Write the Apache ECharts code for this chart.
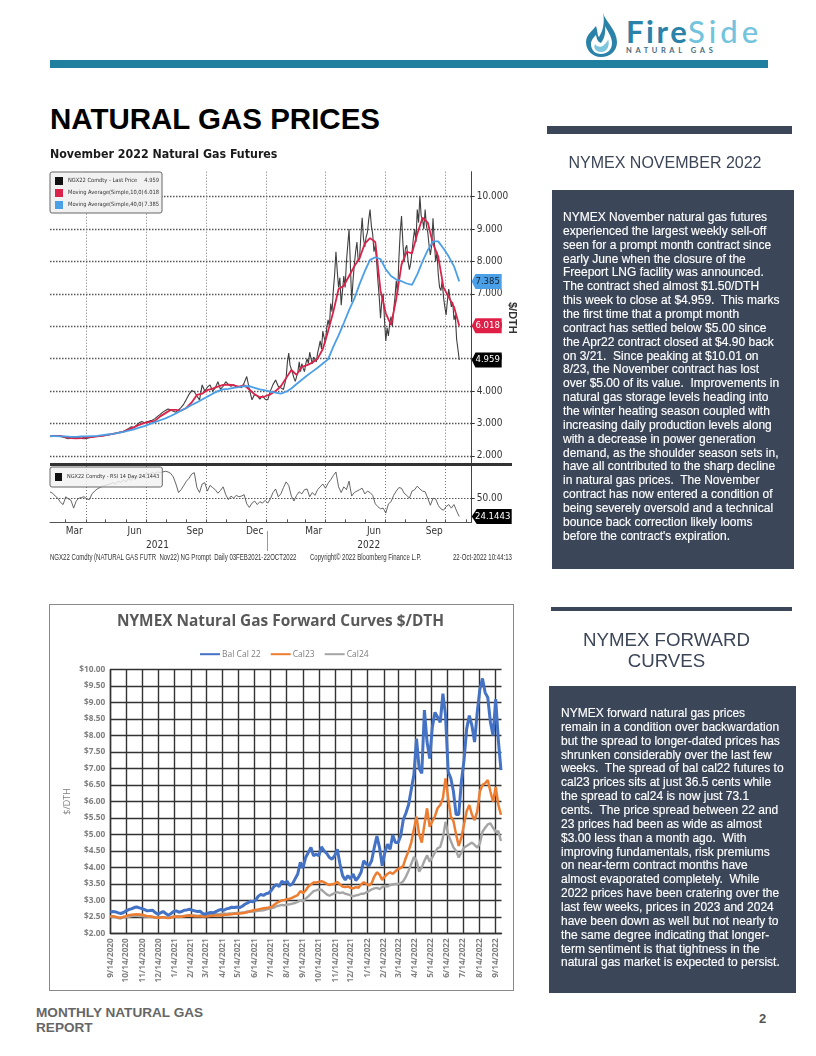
<!DOCTYPE html>
<html><head><meta charset="utf-8">
<script src="https://cdn.jsdelivr.net/npm/echarts@6/dist/echarts.min.js"></script>
<style>
html,body{margin:0;padding:0;background:#fff;width:816px;height:1056px;overflow:hidden;font-family:"Liberation Sans",Arial,sans-serif}
.a{position:absolute;white-space:pre}
#chart{position:absolute;left:0;top:0;width:816px;height:1056px;z-index:2}
.panel{position:absolute;background:#3b4658;z-index:1}
.body{position:absolute;color:#fff;font-size:12px;line-height:13.86px;white-space:pre;z-index:3;-webkit-text-stroke:.15px #fff}
.head{position:absolute;color:#3c4657;text-align:center;z-index:3}
.foot{font-size:8.3px;line-height:11px;color:#333;z-index:4;transform-origin:left top}
</style></head><body>
<div class="a" style="left:50px;top:60px;width:718px;height:8px;background:#1f7f9e"></div>
<svg class="a" style="left:584px;top:12px" width="36" height="46" viewBox="0 0 36 46">
<path d="M19 1C21 9 33 18 33 30C33 39 26 45 17 45C8 45 2 38 2 30C2 23 8 19 12 14C14 20 13 23 15 25C19 19 21 10 19 1Z" fill="#2a82a8"/>
<path d="M21 14C24 20 28 25 28 31C28 38 23 42 17 42C11 42 7 38 7 32C7 28 10 25 12 23C13 28 14 30 17 31C20 27 22 21 21 14Z" fill="#fff"/>
<path d="M17 40C12 40 9 36 11 32C13 35 17 36 20 33C22 31 24 29 24 27C26 32 24 40 17 40Z" fill="#7cc6de"/>
</svg>
<div class="a" style="left:626px;top:18px;font:700 31px/26px Lato,sans-serif;letter-spacing:2.6px;color:#2a82a8">Fire</div>
<div class="a" style="left:688px;top:18px;font:500 31px/26px Lato,sans-serif;letter-spacing:4px;color:#72c3dd">Side</div>
<div class="a" style="left:626px;top:46px;font:700 7.5px/9px Lato,sans-serif;letter-spacing:3.6px;color:#4a6c80">NATURAL GAS</div>
<div class="a" style="left:50px;top:102px;font:700 29.5px/34px 'Liberation Sans',sans-serif;color:#000">NATURAL GAS PRICES</div>

<div class="a" style="left:48.5px;top:604px;width:463px;height:385px;border:1px solid #8a8a8a;background:#fff"></div>
<div class="a" style="left:50px;top:462.6px;width:462px;height:3px;background:#333;z-index:4"></div>
<div class="a" style="left:267.4px;top:531px;width:.8px;height:20px;background:#999;z-index:4"></div>
<div class="a foot" style="left:50px;top:552px;transform:scaleX(.73)">NGX22 Comdty (NATURAL GAS FUTR  Nov22) NG Prompt  Daily 03FEB2021-22OCT2022</div>
<div class="a foot" style="left:310px;top:552px;transform:scaleX(.73)">Copyright© 2022 Bloomberg Finance L.P.</div>
<div class="a foot" style="left:453px;top:552px;transform:scaleX(.73)">22-Oct-2022 10:44:13</div>

<div class="a" style="left:547px;top:126px;width:245px;height:8px;background:#3b4658"></div>
<div class="head" style="left:547px;top:152.5px;width:236px;font-size:16px;line-height:20px">NYMEX NOVEMBER 2022</div>
<div class="panel" style="left:552px;top:190px;width:242px;height:379px"></div>
<div class="body" style="left:563px;top:211px">NYMEX November natural gas futures
experienced the largest weekly sell-off
seen for a prompt month contract since
early June when the closure of the
Freeport LNG facility was announced.
The contract shed almost $1.50/DTH
this week to close at $4.959.  This marks
the first time that a prompt month
contract has settled below $5.00 since
the Apr22 contract closed at $4.90 back
on 3/21.  Since peaking at $10.01 on
8/23, the November contract has lost
over $5.00 of its value.  Improvements in
natural gas storage levels heading into
the winter heating season coupled with
increasing daily production levels along
with a decrease in power generation
demand, as the shoulder season sets in,
have all contributed to the sharp decline
in natural gas prices.  The November
contract has now entered a condition of
being severely oversold and a technical
bounce back correction likely looms
before the contract's expiration.</div>

<div class="a" style="left:551px;top:607px;width:241px;height:4px;background:#3b4658"></div>
<div class="head" style="left:551px;top:629px;width:231px;font-size:18.7px;line-height:21px">NYMEX FORWARD
CURVES</div>
<div class="panel" style="left:549px;top:686px;width:247px;height:307px"></div>
<div class="body" style="left:561px;top:707px">NYMEX forward natural gas prices
remain in a condition over backwardation
but the spread to longer-dated prices has
shrunken considerably over the last few
weeks.  The spread of bal cal22 futures to
cal23 prices sits at just 36.5 cents while
the spread to cal24 is now just 73.1
cents.  The price spread between 22 and
23 prices had been as wide as almost
$3.00 less than a month ago.  With
improving fundamentals, risk premiums
on near-term contract months have
almost evaporated completely.  While
2022 prices have been cratering over the
last few weeks, prices in 2023 and 2024
have been down as well but not nearly to
the same degree indicating that longer-
term sentiment is that tightness in the
natural gas market is expected to persist.</div>

<div class="a" style="left:36px;top:1005px;font-weight:700;font-size:13.6px;line-height:15px;color:#666">MONTHLY NATURAL GAS
REPORT</div>
<div class="a" style="left:759px;top:1011px;font:700 13px/15px 'Liberation Sans',sans-serif;color:#555">2</div>
<div id="chart"></div>
<script>
// ---- November 2022 futures ----
// one price every 4 days from 5 Feb 2021
const lastPriceEarly=[2.60,2.62,2.63,2.62,2.60,2.58,2.55,2.53,2.55,2.57,2.58,2.56,2.54,2.53,2.54,2.56,2.58,2.60,2.60,2.62,2.62,2.63,2.65,2.66,2.68,2.70,2.72,2.74,2.76,2.80,2.85,2.90,2.88,2.95,3.02,3.06,3.02,3.05,3.08,3.10,3.15,3.22,3.28,3.35,3.40,3.45,3.42,3.38,3.35,3.42,3.50,3.60,3.75,3.90,4.02,3.98,3.85,3.73,4.19,4.0,4.12,4.19,4.0,4.1,4.29,4.05,4.15,4.29,4.2,4.15,4.2,4.12,4.14,4.1,4.25,4.45,4.05,3.73,3.9,3.85,3.75,3.85,3.75,3.73,4.0,4.2,4.34,4.15,4.1,4.05];
// one price every 2 days from 31 Jan 2022
const lastPriceLate=[4.4,4.9,5.17,4.8,4.76,4.55,4.4,4.3,4.24,4.6,4.9,4.6,4.85,4.7,4.6,4.85,5.0,4.85,5.2,5.0,4.85,5.05,5.0,4.9,5.17,5.35,5.55,5.3,5.85,5.65,5.5,5.95,6.2,6.0,6.7,6.45,7.1,7.6,8.3,7.7,7.2,7.5,6.65,7.1,7.55,7.2,8.0,8.5,9.0,7.9,6.75,7.4,7.9,8.3,8.6,8.0,8.1,8.8,9.35,8.7,8.45,8.75,8.9,9.3,9.6,9.1,8.85,8.3,8.5,8.0,7.4,6.9,6.25,6.8,7.0,6.2,5.55,5.95,5.7,6.1,6.3,6.0,6.5,6.9,7.4,7.0,8.1,8.9,9.4,8.6,8.0,8.4,8.5,8.0,7.75,7.95,8.3,8.7,9.0,8.6,9.6,9.2,10.01,9.4,9.3,9.0,9.6,9.1,8.9,8.5,8.2,8.5,9.33,8.6,8.0,8.3,7.6,7.2,7.1,7.4,6.9,6.6,6.35,6.8,7.15,6.85,6.6,6.75,6.2,6.35,5.6,5.3,4.959];
// moving averages, one value every 8 days
const ma10=[2.60,2.62,2.62,2.58,2.55,2.54,2.55,2.57,2.58,2.60,2.62,2.65,2.68,2.71,2.75,2.82,2.88,2.96,3.02,3.05,3.08,3.22,3.32,3.42,3.42,3.40,3.48,3.65,3.88,3.92,4.03,4.08,4.14,4.19,4.2,4.18,4.14,4.18,4.05,3.9,3.81,3.84,3.9,4.0,4.15,4.4,4.65,4.5,4.75,4.8,4.88,5.0,5.3,5.85,6.45,7.15,7.25,7.55,7.85,8.1,8.55,8.72,8.6,7.1,6.4,6.04,6.85,7.9,8.3,8.25,8.85,9.35,9.2,8.55,8.15,7.2,6.9,6.6,6.018];
const ma40=[2.61,2.61,2.60,2.60,2.59,2.59,2.60,2.60,2.61,2.62,2.64,2.66,2.68,2.71,2.74,2.78,2.82,2.87,2.92,2.98,3.04,3.10,3.16,3.23,3.31,3.40,3.48,3.57,3.65,3.74,3.83,3.92,4.00,4.05,4.07,4.10,4.12,4.15,4.15,4.10,4.05,4.02,3.98,3.95,3.92,3.98,4.08,4.22,4.35,4.48,4.6,4.72,4.85,4.98,5.37,5.72,6.1,6.5,6.85,7.3,7.7,8.05,8.13,8.07,7.76,7.55,7.44,7.39,7.32,7.28,7.6,8.0,8.35,8.62,8.62,8.4,8.15,7.85,7.385];
// RSI 14 day, one value every 4 days
const rsi14=[58.8,57,53,50,44,41,52,49,47,36,46,50,51,52,49,48,56,60,63,65,67,68,69,70,72,70,74,72,76,73,78,75,80,78,82,80,83,85,84,86,85,87,86,87,88,87,85,80,70,58,62,68,74,78,84,86,65,58,70,72,60,68,65,62,57,61,66,55,48,53,50,54,52,53,55,42,37,43,46,41,45,43,47,43,49,58,63,52,56,65,73,68,53,46,54,59,56,62,63,52,58,54,62,66,70,64,71,76,82,87,66,58,66,62,74,53,58,60,62,64,56,60,58,54,42,38,35,36,29,42,45,54,60,65,64,57,54,50,60,62,67,63,60,59,50,40,50,49,40,35,33,38,41,36,41,32,24.1443];
const priceTicks=[2,3,4,5,6,7,8,9,10];
const monthLabels=['Mar','Jun','Sep','Dec','Mar','Jun','Sep'];
const yearLabels=['2021','2022'];
// ---- Forward curves (one value every 5 days from 14 Sep 2020) ----
const balCal22=[2.65,2.66,2.65,2.62,2.60,2.63,2.68,2.72,2.74,2.78,2.80,2.77,2.75,2.72,2.68,2.69,2.70,2.63,2.58,2.62,2.66,2.60,2.55,2.60,2.66,2.68,2.64,2.66,2.70,2.71,2.73,2.70,2.68,2.66,2.67,2.60,2.58,2.61,2.63,2.62,2.66,2.70,2.72,2.70,2.74,2.76,2.79,2.78,2.80,2.78,2.82,2.88,2.92,2.97,2.96,3.00,3.12,3.18,3.15,3.20,3.22,3.30,3.42,3.48,3.42,3.58,3.52,3.58,3.45,3.50,3.65,3.80,4.15,3.98,4.30,4.45,4.60,4.35,4.40,4.35,4.62,4.50,4.42,4.30,4.25,4.35,4.55,4.10,3.75,3.62,3.75,3.65,3.80,3.60,3.70,3.85,4.20,4.10,4.05,4.2,4.6,4.95,4.6,4.05,4.45,4.7,4.55,4.98,4.75,4.75,4.95,5.45,5.65,5.9,6.35,6.8,7.9,7.0,6.85,8.77,7.8,7.3,8.26,8.7,8.55,8.4,9.27,8.6,6.9,6.7,6.3,5.6,5.6,6.6,7.25,8.2,8.6,8.3,7.8,8.7,9.4,9.73,9.3,9.15,8.4,8.0,9.1,7.86,6.95];
const cal23=[2.50,2.52,2.50,2.48,2.47,2.50,2.52,2.55,2.56,2.57,2.58,2.57,2.56,2.54,2.52,2.52,2.50,2.48,2.47,2.48,2.49,2.47,2.46,2.48,2.50,2.51,2.50,2.50,2.52,2.53,2.54,2.53,2.52,2.52,2.52,2.51,2.51,2.52,2.53,2.53,2.54,2.54,2.54,2.56,2.56,2.57,2.58,2.59,2.59,2.60,2.61,2.62,2.64,2.67,2.69,2.71,2.72,2.74,2.76,2.77,2.78,2.80,2.86,2.92,2.96,3.00,3.01,3.03,3.05,3.08,3.12,3.16,3.28,3.22,3.30,3.42,3.48,3.54,3.54,3.56,3.58,3.55,3.50,3.46,3.49,3.50,3.56,3.48,3.42,3.40,3.42,3.38,3.36,3.40,3.38,3.48,3.55,3.5,3.45,3.52,3.72,3.85,3.78,3.62,3.72,3.8,3.85,3.8,3.88,3.95,3.98,4.05,4.3,4.5,4.75,5.15,5.54,5.0,4.75,5.3,5.79,5.23,5.4,5.55,5.8,5.89,6.1,6.7,6.1,5.54,5.4,5.0,4.65,4.9,5.3,5.7,5.89,5.6,5.43,5.7,6.3,6.5,6.55,6.65,6.3,5.99,6.44,5.9,5.59];
const cal24=[2.50,2.51,2.49,2.46,2.45,2.48,2.49,2.50,2.52,2.53,2.53,2.52,2.52,2.51,2.51,2.50,2.49,2.48,2.48,2.48,2.49,2.48,2.47,2.49,2.51,2.51,2.52,2.52,2.53,2.54,2.55,2.54,2.54,2.53,2.54,2.53,2.54,2.55,2.56,2.57,2.58,2.59,2.59,2.60,2.59,2.60,2.60,2.61,2.62,2.62,2.63,2.64,2.66,2.65,2.66,2.67,2.68,2.69,2.70,2.72,2.74,2.76,2.78,2.82,2.84,2.86,2.85,2.87,2.88,2.90,2.92,2.95,3.00,2.97,3.05,3.12,3.20,3.28,3.30,3.33,3.32,3.25,3.18,3.14,3.18,3.22,3.25,3.22,3.24,3.20,3.18,3.15,3.12,3.15,3.16,3.20,3.20,3.24,3.28,3.33,3.36,3.38,3.34,3.40,3.44,3.42,3.46,3.48,3.50,3.5,3.52,3.58,3.72,3.9,4.1,4.32,4.2,3.87,4.0,4.2,4.37,4.17,4.3,4.45,4.58,4.62,4.9,5.38,5.0,4.8,4.6,4.5,4.3,4.45,4.6,4.65,4.7,4.75,4.68,4.6,4.72,5.08,5.2,5.3,5.33,5.2,5.08,5.1,4.8];
const fwdTickLabels=['9/14/2020','10/14/2020','11/14/2020','12/14/2020','1/14/2021','2/14/2021','3/14/2021','4/14/2021','5/14/2021','6/14/2021','7/14/2021','8/14/2021','9/14/2021','10/14/2021','11/14/2021','12/14/2021','1/14/2022','2/14/2022','3/14/2022','4/14/2022','5/14/2022','6/14/2022','7/14/2022','8/14/2022','9/14/2022'];

const DAY=86400000;
const d=(y,m,dd)=>new Date(y,m-1,dd).getTime();
const pts=(vals,start,step)=>vals.map((v,i)=>[start+i*step*DAY,v]);
const topMin=d(2021,2,5), topMax=d(2022,11,10);
const quarterEnds=[d(2021,4,1),d(2021,7,1),d(2021,10,1),d(2022,1,1),d(2022,4,1),d(2022,7,1),d(2022,10,1)];
const monthFirsts=[];for(let y=2021,m=3;y<2023&&!(y==2022&&m>11);m++){if(m>12){m=1;y++;}monthFirsts.push(d(y,m,1));}
const labelDates=[d(2021,3,14),d(2021,6,14),d(2021,9,14),d(2021,12,14),d(2022,3,14),d(2022,6,14),d(2022,9,14)];
const yearDates=[d(2021,7,19),d(2022,6,6)];
const fwdStart=d(2020,9,14), fwdEnd=d(2022,9,25);
const fwdTicks=fwdTickLabels.map(s=>{const p=s.split('/');return d(+p[2],+p[0],+p[1]);});
const NAR='"DejaVu Sans Condensed","Liberation Sans",sans-serif';
const tag=(date,val,color,text,tc,w)=>({
  silent:true,animation:false,
  data:[{coord:[date,val],symbol:'path://M0 7 L5 0 L40 0 L40 14 L5 14 Z',symbolSize:[w,15],symbolOffset:[w/2,0],symbolKeepAspect:false,
    itemStyle:{color:color},label:{show:true,position:'inside',offset:[1,0],formatter:text,color:tc,fontSize:9.5,fontFamily:NAR}}]
});
const legendValues={'NGX22 Comdty - Last Price':'4.959','Moving Average(Simple,10,0)':'6.018','Moving Average(Simple,40,0)':'7.385'};
const lateStart=topMin+360*DAY;
const priceSeries=pts(lastPriceEarly,topMin,4).concat(pts(lastPriceLate,lateStart,2));

const chart=echarts.init(document.getElementById('chart'),null,{renderer:'canvas'});
chart.setOption({
  animation:false,backgroundColor:'transparent',
  title:[
   {text:'November 2022 Natural Gas Futures',left:50,top:149,padding:0,textStyle:{fontFamily:NAR,fontSize:12.3,fontWeight:'bold',color:'#1a1a1a'}},
   {text:'NYMEX Natural Gas Forward Curves $/DTH',left:117,top:614,padding:0,textStyle:{fontFamily:'"Open Sans",sans-serif',fontSize:15.4,fontWeight:'bold',color:'#595959'}}
  ],
  legend:[
   {data:Object.keys(legendValues),orient:'vertical',left:50,top:172,padding:[5,3,4,5],itemGap:4,itemWidth:8,itemHeight:8,icon:'rect',selectedMode:false,
    backgroundColor:'#f1f1f1',borderColor:'#666',borderWidth:1,borderRadius:2,
    formatter:n=>`{a|${n}}{b|${legendValues[n]}}`,
    textStyle:{rich:{a:{width:76,fontSize:5.7,fontFamily:NAR,color:'#333'},b:{width:15,fontSize:5.7,fontFamily:NAR,color:'#333',align:'right'}}}},
   {data:['NGX22 Comdty - RSI 14 Day 24.1443'],left:50,top:467,padding:[6,3,6,5],itemWidth:7,itemHeight:8,icon:'rect',selectedMode:false,
    backgroundColor:'rgba(241,241,241,0.82)',borderColor:'#666',borderWidth:1,borderRadius:2,
    textStyle:{fontSize:5.5,fontFamily:NAR,color:'#333'}},
   {data:['Bal Cal 22','Cal23','Cal24'],left:200,top:649.7,padding:0,itemGap:10,itemWidth:20,itemHeight:2,icon:'rect',selectedMode:false,
    textStyle:{fontSize:8.5,fontFamily:'"Open Sans",sans-serif',color:'#7f7f7f',padding:[0,0,0,-3]}}
  ],
  grid:[
   {left:50,top:171.7,width:421.7,height:292.3},
   {left:50,top:466,width:421.7,height:56.3},
   {left:110.3,top:669.5,width:391.2,height:263.8}
  ],
  xAxis:[
   {type:'value',gridIndex:0,min:topMin,max:topMax,axisLine:{show:false},axisLabel:{show:false},axisTick:{show:false,customValues:quarterEnds},
    splitLine:{show:true,lineStyle:{type:[1,2],color:'#777',width:1}}},
   {type:'value',gridIndex:1,min:topMin,max:topMax,position:'bottom',axisLine:{show:true,lineStyle:{color:'#555',width:1}},
    axisTick:{show:true,inside:true,length:3,customValues:monthFirsts,lineStyle:{color:'#555'}},
    axisLabel:{show:true,customValues:labelDates,margin:4,fontFamily:NAR,fontSize:10,color:'#333',formatter:(v)=>monthLabels[labelDates.indexOf(+v)]||''},
    splitLine:{show:false}},
   {type:'value',gridIndex:1,min:topMin,max:topMax,position:'bottom',axisLine:{show:false},axisLabel:{show:false},axisTick:{show:false,customValues:quarterEnds},
    splitLine:{show:true,lineStyle:{type:[1,2],color:'#777',width:1}}},
   {type:'value',gridIndex:1,min:topMin,max:topMax,position:'bottom',offset:16,axisLine:{show:false},axisTick:{show:false},
    axisLabel:{show:true,customValues:yearDates,margin:2,fontFamily:NAR,fontSize:10,color:'#333',formatter:(v)=>yearLabels[yearDates.indexOf(+v)]||''},splitLine:{show:false}},
   {type:'value',gridIndex:2,min:fwdStart,max:fwdEnd,axisLine:{show:true,lineStyle:{color:'#333',width:1.4}},
    axisTick:{show:false,customValues:fwdTicks},
    axisLabel:{show:true,customValues:fwdTicks,rotate:90,margin:5,fontFamily:'"Open Sans",sans-serif',fontWeight:'bold',fontSize:8.2,color:'#7f7f7f',formatter:(v)=>fwdTickLabels[fwdTicks.indexOf(+v)]||''},
    splitLine:{show:true,lineStyle:{color:'#333',width:1.4}}}
  ],
  yAxis:[
   {type:'value',gridIndex:0,position:'right',min:1.75,max:10.77,axisLine:{show:true,onZero:false,lineStyle:{color:'#444',width:1}},
    axisTick:{show:true,length:3,customValues:priceTicks,lineStyle:{color:'#333'}},
    axisLabel:{customValues:priceTicks,margin:5,fontFamily:NAR,fontSize:10,color:'#333',formatter:v=>(+v).toFixed(3)},
    splitLine:{show:true,lineStyle:{type:[1.5,1.5],color:'#555',width:1.3}},
    name:'$/DTH',nameLocation:'middle',nameRotate:-90,nameGap:35,nameMoveOverlap:false,nameTextStyle:{fontFamily:'"Liberation Sans"',fontSize:11,fontWeight:'bold',color:'#333'}},
   {type:'value',gridIndex:1,position:'right',min:16,max:95.4,axisLine:{show:true,onZero:false,lineStyle:{color:'#444',width:1}},
    axisTick:{show:true,length:3,customValues:[50],lineStyle:{color:'#333'}},
    axisLabel:{customValues:[50],margin:5,fontFamily:NAR,fontSize:10,color:'#333',formatter:v=>(+v).toFixed(2)},
    splitLine:{show:true,lineStyle:{type:[1.5,1.5],color:'#555',width:1.1}}},
   {type:'value',gridIndex:2,min:2,max:10,interval:0.5,axisLine:{show:true,onZero:false,lineStyle:{color:'#333',width:1.4}},axisTick:{show:false},
    axisLabel:{margin:5,fontFamily:'"Open Sans",sans-serif',fontWeight:'bold',fontSize:8.3,color:'#7f7f7f',formatter:v=>'$'+(+v).toFixed(2)},
    splitLine:{show:true,lineStyle:{color:'#333',width:1.4}},
    name:'$/DTH',nameLocation:'middle',nameRotate:90,nameGap:38,nameTextStyle:{fontFamily:'"Open Sans",sans-serif',fontSize:9,color:'#7f7f7f'}}
  ],
  series:[
   {name:'NGX22 Comdty - Last Price',type:'line',xAxisIndex:0,yAxisIndex:0,data:priceSeries,showSymbol:false,symbol:'none',itemStyle:{color:'#111'},lineStyle:{color:'#3f3f3f',width:1.1},
    markPoint:tag(topMax,4.959,'#000','4.959','#fff',30),z:3},
   {name:'Moving Average(Simple,10,0)',type:'line',xAxisIndex:0,yAxisIndex:0,data:pts(ma10,topMin,8),showSymbol:false,symbol:'none',itemStyle:{color:'#d9234a'},lineStyle:{color:'#d9234a',width:1.8},
    markPoint:tag(topMax,6.018,'#e01f47','6.018','#fff',30),z:4},
   {name:'Moving Average(Simple,40,0)',type:'line',xAxisIndex:0,yAxisIndex:0,data:pts(ma40,topMin,8),showSymbol:false,symbol:'none',itemStyle:{color:'#4a9fe6'},lineStyle:{color:'#4a9fe6',width:1.8},
    markPoint:tag(topMax,7.385,'#4a9fe6','7.385','#123',30),z:5},
   {name:'NGX22 Comdty - RSI 14 Day 24.1443',type:'line',xAxisIndex:1,yAxisIndex:1,data:pts(rsi14,topMin,4),showSymbol:false,symbol:'none',itemStyle:{color:'#111'},lineStyle:{color:'#555',width:0.9},
    markPoint:tag(topMax,24.1443,'#000','24.1443','#fff',40),z:3},
   {name:'Cal24',type:'line',xAxisIndex:4,yAxisIndex:2,data:pts(cal24,fwdStart,5),showSymbol:false,symbol:'none',itemStyle:{color:'#a5a5a5'},lineStyle:{color:'#a5a5a5',width:2.4},z:3},
   {name:'Cal23',type:'line',xAxisIndex:4,yAxisIndex:2,data:pts(cal23,fwdStart,5),showSymbol:false,symbol:'none',itemStyle:{color:'#ed7d31'},lineStyle:{color:'#ed7d31',width:2.5},z:4},
   {name:'Bal Cal 22',type:'line',xAxisIndex:4,yAxisIndex:2,data:pts(balCal22,fwdStart,5),showSymbol:false,symbol:'none',itemStyle:{color:'#4472c4'},lineStyle:{color:'#4472c4',width:3},z:5}
  ]
});
</script>
</body></html>
